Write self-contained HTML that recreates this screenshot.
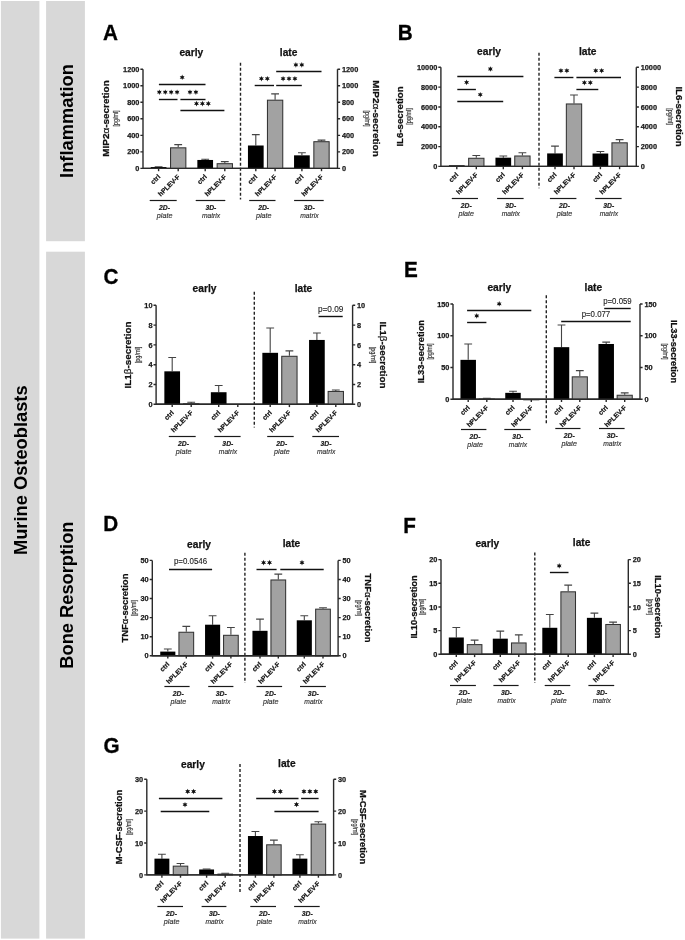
<!DOCTYPE html>
<html><head><meta charset="utf-8"><style>
html,body{margin:0;padding:0;background:#fff;width:685px;height:940px;overflow:hidden}
svg{display:block;will-change:transform}
text{font-family:"Liberation Sans",sans-serif;fill:#111}
.lt{font-size:20.7px;font-weight:bold;fill:#000;stroke:#000;stroke-width:0.3px}
.tt{font-size:10.2px;font-weight:bold;stroke:#111;stroke-width:0.25px}
.tk{font-size:7.35px;font-weight:bold;fill:#1a1a1a;stroke:#1a1a1a;stroke-width:0.25px}
.xl{font-size:6.7px;font-weight:bold;fill:#111;stroke:#111;stroke-width:0.2px}
.g1{font-size:6.8px;font-weight:bold;font-style:italic;fill:#222;stroke:#222;stroke-width:0.2px}
.g2{font-size:7.0px;font-style:italic;fill:#333;stroke:#333;stroke-width:0.15px}
.yl{font-size:9.4px;font-weight:bold;fill:#111;stroke:#111;stroke-width:0.25px}
.gk{font-weight:normal}
.un{fill:#3a3a3a;stroke:#3a3a3a;stroke-width:0.2px}
.st{font-size:12.5px;font-weight:bold;letter-spacing:0.8px;fill:#111}
.pv{font-size:8.8px;fill:#222;stroke:#222;stroke-width:0.12px}
.big{font-size:18.3px;font-weight:bold;fill:#000}
.ax{stroke:#2a2a2a;stroke-width:1.4;fill:none}
.ul{stroke:#1a1a1a;stroke-width:1.2;fill:none}
.sg{stroke:#111;stroke-width:1.4;fill:none}
.eb{stroke:#444;stroke-width:1.1;fill:none}
.bb{fill:#000}
.gb{fill:#a2a2a2;stroke:#333;stroke-width:1.05}
.dash{stroke:#222;stroke-width:1.4;stroke-dasharray:3 2;fill:none}
</style></head><body>
<svg width="685" height="940" viewBox="0 0 685 940">
<defs><path id="star" d="M0.00 -2.80L0.68 -1.17L2.42 -1.40L1.35 0.00L2.42 1.40L0.68 1.17L0.00 2.80L-0.67 1.17L-2.42 1.40L-1.35 0.00L-2.42 -1.40L-0.68 -1.17Z" fill="#111"/></defs>
<rect x="0.9" y="1.0" width="38.5" height="937.6" fill="#d8d8d8"/>
<rect x="46.1" y="1.0" width="38.8" height="240.2" fill="#d8d8d8"/>
<rect x="46.1" y="251.7" width="38.8" height="686.9" fill="#d8d8d8"/>
<text transform="translate(27.0,470.2) rotate(-90)" class="big" text-anchor="middle">Murine Osteoblasts</text>
<text transform="translate(72.6,121.0) rotate(-90)" class="big" text-anchor="middle">Inflammation</text>
<text transform="translate(72.6,595.1) rotate(-90)" class="big" text-anchor="middle">Bone Resorption</text>
<text transform="translate(103,39.8) scale(1,1.065)" class="lt">A</text>
<text x="191.3" y="56.3" class="tt" text-anchor="middle">early</text>
<text x="288.6" y="56.3" class="tt" text-anchor="middle">late</text>
<path d="M143 69.2V168.4H337.5V69.2" class="ax"/>
<path d="M140.4 168.4H143M337.5 168.4H340.1" class="ax"/>
<text x="139.4" y="171" class="tk" text-anchor="end">0</text>
<text x="341.9" y="171" class="tk">0</text>
<path d="M140.4 151.87H143M337.5 151.87H340.1" class="ax"/>
<text x="139.4" y="154.47" class="tk" text-anchor="end">200</text>
<text x="341.9" y="154.47" class="tk">200</text>
<path d="M140.4 135.33H143M337.5 135.33H340.1" class="ax"/>
<text x="139.4" y="137.93" class="tk" text-anchor="end">400</text>
<text x="341.9" y="137.93" class="tk">400</text>
<path d="M140.4 118.8H143M337.5 118.8H340.1" class="ax"/>
<text x="139.4" y="121.4" class="tk" text-anchor="end">600</text>
<text x="341.9" y="121.4" class="tk">600</text>
<path d="M140.4 102.27H143M337.5 102.27H340.1" class="ax"/>
<text x="139.4" y="104.87" class="tk" text-anchor="end">800</text>
<text x="341.9" y="104.87" class="tk">800</text>
<path d="M140.4 85.73H143M337.5 85.73H340.1" class="ax"/>
<text x="139.4" y="88.33" class="tk" text-anchor="end">1000</text>
<text x="341.9" y="88.33" class="tk">1000</text>
<path d="M140.4 69.2H143M337.5 69.2H340.1" class="ax"/>
<text x="139.4" y="71.8" class="tk" text-anchor="end">1200</text>
<text x="341.9" y="71.8" class="tk">1200</text>
<path d="M240.5 62.7V199.5" class="dash"/>
<path d="M158.6 167.08V166.75M154.7 166.75H162.5" class="eb"/>
<rect x="150.75" y="167.08" width="15.7" height="1.32" class="bb"/>
<path d="M158.6 168.4V171.2" class="ax"/>
<text transform="translate(160.7,177.3) rotate(-45)" class="xl" text-anchor="end">ctrl</text>
<path d="M178.2 147.32V144.59M174.3 144.59H182.1" class="eb"/>
<rect x="170.55" y="147.82" width="15.3" height="20.58" class="gb"/>
<path d="M178.2 168.4V171.2" class="ax"/>
<text transform="translate(180.3,177.3) rotate(-45)" class="xl" text-anchor="end">hPLEV-F</text>
<path d="M205.2 159.97V159.31M201.3 159.31H209.1" class="eb"/>
<rect x="197.35" y="159.97" width="15.7" height="8.43" class="bb"/>
<path d="M205.2 168.4V171.2" class="ax"/>
<text transform="translate(207.3,177.3) rotate(-45)" class="xl" text-anchor="end">ctrl</text>
<path d="M224.8 163.19V161.62M220.9 161.62H228.7" class="eb"/>
<rect x="217.15" y="163.69" width="15.3" height="4.71" class="gb"/>
<path d="M224.8 168.4V171.2" class="ax"/>
<text transform="translate(226.9,177.3) rotate(-45)" class="xl" text-anchor="end">hPLEV-F</text>
<path d="M255.8 145.5V134.67M251.9 134.67H259.7" class="eb"/>
<rect x="247.95" y="145.5" width="15.7" height="22.9" class="bb"/>
<path d="M255.8 168.4V171.2" class="ax"/>
<text transform="translate(257.9,177.3) rotate(-45)" class="xl" text-anchor="end">ctrl</text>
<path d="M275.1 99.7V93.83M271.2 93.83H279" class="eb"/>
<rect x="267.45" y="100.2" width="15.3" height="68.2" class="gb"/>
<path d="M275.1 168.4V171.2" class="ax"/>
<text transform="translate(277.2,177.3) rotate(-45)" class="xl" text-anchor="end">hPLEV-F</text>
<path d="M301.9 155.34V152.69M298 152.69H305.8" class="eb"/>
<rect x="294.05" y="155.34" width="15.7" height="13.06" class="bb"/>
<path d="M301.9 168.4V171.2" class="ax"/>
<text transform="translate(304,177.3) rotate(-45)" class="xl" text-anchor="end">ctrl</text>
<path d="M321.5 141.2V140.13M317.6 140.13H325.4" class="eb"/>
<rect x="313.85" y="141.7" width="15.3" height="26.7" class="gb"/>
<path d="M321.5 168.4V171.2" class="ax"/>
<text transform="translate(323.6,177.3) rotate(-45)" class="xl" text-anchor="end">hPLEV-F</text>
<path d="M143 168.4H337.5" class="ax"/>
<path d="M149.7 200.5H176.7" class="ul"/>
<text x="164.5" y="209.7" class="g1" text-anchor="middle">2D-</text>
<text x="164.6" y="217.7" class="g2" style="font-size:7.2px" text-anchor="middle">plate</text>
<path d="M195.7 200.5H225.3" class="ul"/>
<text x="210.9" y="209.7" class="g1" text-anchor="middle">3D-</text>
<text x="211" y="217.7" class="g2" style="font-size:6.7px" text-anchor="middle">matrix</text>
<path d="M249.2 200.5H275.5" class="ul"/>
<text x="263.65" y="209.7" class="g1" text-anchor="middle">2D-</text>
<text x="263.75" y="217.7" class="g2" style="font-size:7.2px" text-anchor="middle">plate</text>
<path d="M294.1 200.5H323.7" class="ul"/>
<text x="309.3" y="209.7" class="g1" text-anchor="middle">3D-</text>
<text x="309.4" y="217.7" class="g2" style="font-size:6.7px" text-anchor="middle">matrix</text>
<path d="M158.9 84.5H205.5" class="sg"/>
<use href="#star" x="182.2" y="77.3"/>
<path d="M158.9 99.5H177.5" class="sg"/>
<use href="#star" x="159.32" y="92.2"/>
<use href="#star" x="165.24" y="92.2"/>
<use href="#star" x="171.16" y="92.2"/>
<use href="#star" x="177.08" y="92.2"/>
<path d="M180.4 99.5H205.5" class="sg"/>
<use href="#star" x="189.99" y="92.2"/>
<use href="#star" x="195.91" y="92.2"/>
<path d="M180.4 110.5H224.4" class="sg"/>
<use href="#star" x="196.48" y="103.6"/>
<use href="#star" x="202.4" y="103.6"/>
<use href="#star" x="208.32" y="103.6"/>
<path d="M254.7 85.5H274" class="sg"/>
<use href="#star" x="261.39" y="78.7"/>
<use href="#star" x="267.31" y="78.7"/>
<path d="M276.2 85.5H301.8" class="sg"/>
<use href="#star" x="283.08" y="78.7"/>
<use href="#star" x="289" y="78.7"/>
<use href="#star" x="294.92" y="78.7"/>
<path d="M276.2 71.5H321.5" class="sg"/>
<use href="#star" x="295.89" y="64.9"/>
<use href="#star" x="301.81" y="64.9"/>
<text transform="translate(109.4,118.5) rotate(-90)" class="yl" text-anchor="middle" textLength="76.4" lengthAdjust="spacingAndGlyphs">MIP2<tspan class="gk">α</tspan>-secretion</text>
<text transform="translate(373.2,118.5) rotate(90)" class="yl" text-anchor="middle" textLength="76.4" lengthAdjust="spacingAndGlyphs">MIP2<tspan class="gk">α</tspan>-secretion</text>
<text transform="translate(117.7,118.5) rotate(-90)" class="un" style="font-size:6.6px" text-anchor="middle" textLength="16.0" lengthAdjust="spacingAndGlyphs">[pg/ml]</text>
<text transform="translate(365.2,118.5) rotate(90)" class="un" style="font-size:6.6px" text-anchor="middle" textLength="16.0" lengthAdjust="spacingAndGlyphs">[pg/ml]</text>
<text transform="translate(397.8,39.8) scale(1,1.065)" class="lt">B</text>
<text x="489" y="54.5" class="tt" text-anchor="middle">early</text>
<text x="587.7" y="54.5" class="tt" text-anchor="middle">late</text>
<path d="M440.9 67.3V166.4H636.3V67.3" class="ax"/>
<path d="M438.3 166.4H440.9M636.3 166.4H638.9" class="ax"/>
<text x="437.3" y="169" class="tk" text-anchor="end">0</text>
<text x="640.7" y="169" class="tk">0</text>
<path d="M438.3 146.58H440.9M636.3 146.58H638.9" class="ax"/>
<text x="437.3" y="149.18" class="tk" text-anchor="end">2000</text>
<text x="640.7" y="149.18" class="tk">2000</text>
<path d="M438.3 126.76H440.9M636.3 126.76H638.9" class="ax"/>
<text x="437.3" y="129.36" class="tk" text-anchor="end">4000</text>
<text x="640.7" y="129.36" class="tk">4000</text>
<path d="M438.3 106.94H440.9M636.3 106.94H638.9" class="ax"/>
<text x="437.3" y="109.54" class="tk" text-anchor="end">6000</text>
<text x="640.7" y="109.54" class="tk">6000</text>
<path d="M438.3 87.12H440.9M636.3 87.12H638.9" class="ax"/>
<text x="437.3" y="89.72" class="tk" text-anchor="end">8000</text>
<text x="640.7" y="89.72" class="tk">8000</text>
<path d="M438.3 67.3H440.9M636.3 67.3H638.9" class="ax"/>
<text x="437.3" y="69.9" class="tk" text-anchor="end">10000</text>
<text x="640.7" y="69.9" class="tk">10000</text>
<path d="M539 52.8V188.3" class="dash"/>
<rect x="448.95" y="165.31" width="15.7" height="1.09" class="bb"/>
<path d="M456.8 166.4V169.2" class="ax"/>
<text transform="translate(458.9,175.3) rotate(-45)" class="xl" text-anchor="end">ctrl</text>
<path d="M476.3 157.78V155.5M472.4 155.5H480.2" class="eb"/>
<rect x="468.65" y="158.28" width="15.3" height="8.12" class="gb"/>
<path d="M476.3 166.4V169.2" class="ax"/>
<text transform="translate(478.4,175.3) rotate(-45)" class="xl" text-anchor="end">hPLEV-F</text>
<path d="M503.3 157.68V155.99M499.4 155.99H507.2" class="eb"/>
<rect x="495.45" y="157.68" width="15.7" height="8.72" class="bb"/>
<path d="M503.3 166.4V169.2" class="ax"/>
<text transform="translate(505.4,175.3) rotate(-45)" class="xl" text-anchor="end">ctrl</text>
<path d="M522.4 155.5V152.72M518.5 152.72H526.3" class="eb"/>
<rect x="514.75" y="156" width="15.3" height="10.4" class="gb"/>
<path d="M522.4 166.4V169.2" class="ax"/>
<text transform="translate(524.5,175.3) rotate(-45)" class="xl" text-anchor="end">hPLEV-F</text>
<path d="M555 153.42V146.08M551.1 146.08H558.9" class="eb"/>
<rect x="547.15" y="153.42" width="15.7" height="12.98" class="bb"/>
<path d="M555 166.4V169.2" class="ax"/>
<text transform="translate(557.1,175.3) rotate(-45)" class="xl" text-anchor="end">ctrl</text>
<path d="M574 103.47V95.05M570.1 95.05H577.9" class="eb"/>
<rect x="566.35" y="103.97" width="15.3" height="62.43" class="gb"/>
<path d="M574 166.4V169.2" class="ax"/>
<text transform="translate(576.1,175.3) rotate(-45)" class="xl" text-anchor="end">hPLEV-F</text>
<path d="M600.4 153.52V151.53M596.5 151.53H604.3" class="eb"/>
<rect x="592.55" y="153.52" width="15.7" height="12.88" class="bb"/>
<path d="M600.4 166.4V169.2" class="ax"/>
<text transform="translate(602.5,175.3) rotate(-45)" class="xl" text-anchor="end">ctrl</text>
<path d="M619.6 142.32V139.64M615.7 139.64H623.5" class="eb"/>
<rect x="611.95" y="142.82" width="15.3" height="23.58" class="gb"/>
<path d="M619.6 166.4V169.2" class="ax"/>
<text transform="translate(621.7,175.3) rotate(-45)" class="xl" text-anchor="end">hPLEV-F</text>
<path d="M440.9 166.4H636.3" class="ax"/>
<path d="M451.8 198.5H478" class="ul"/>
<text x="466.2" y="207.6" class="g1" text-anchor="middle">2D-</text>
<text x="466.3" y="215.6" class="g2" style="font-size:7.2px" text-anchor="middle">plate</text>
<path d="M497.1 198.5H523.6" class="ul"/>
<text x="510.75" y="207.6" class="g1" text-anchor="middle">3D-</text>
<text x="510.85" y="215.6" class="g2" style="font-size:6.7px" text-anchor="middle">matrix</text>
<path d="M549.9 198.5H576.4" class="ul"/>
<text x="564.45" y="207.9" class="g1" text-anchor="middle">2D-</text>
<text x="564.55" y="215.9" class="g2" style="font-size:7.2px" text-anchor="middle">plate</text>
<path d="M595.2 198.5H621.6" class="ul"/>
<text x="608.8" y="207.9" class="g1" text-anchor="middle">3D-</text>
<text x="608.9" y="215.9" class="g2" style="font-size:6.7px" text-anchor="middle">matrix</text>
<path d="M457.3 76.5H523.4" class="sg"/>
<use href="#star" x="490.35" y="69"/>
<path d="M457.3 89.5H475.9" class="sg"/>
<use href="#star" x="466.6" y="82.4"/>
<path d="M457.3 101.5H503.2" class="sg"/>
<use href="#star" x="480.25" y="94.7"/>
<path d="M554.4 77.5H573.4" class="sg"/>
<use href="#star" x="560.94" y="70.7"/>
<use href="#star" x="566.86" y="70.7"/>
<path d="M576.4 77.5H621" class="sg"/>
<use href="#star" x="595.74" y="70.7"/>
<use href="#star" x="601.66" y="70.7"/>
<path d="M576.4 89.5H598.3" class="sg"/>
<use href="#star" x="584.39" y="82.7"/>
<use href="#star" x="590.31" y="82.7"/>
<text transform="translate(403.3,116.5) rotate(-90)" class="yl" text-anchor="middle" textLength="60.2" lengthAdjust="spacingAndGlyphs">IL6-secretion</text>
<text transform="translate(676.1,116.5) rotate(90)" class="yl" text-anchor="middle" textLength="60.2" lengthAdjust="spacingAndGlyphs">IL6-secretion</text>
<text transform="translate(411,116.5) rotate(-90)" class="un" style="font-size:6.6px" text-anchor="middle" textLength="16.6" lengthAdjust="spacingAndGlyphs">[pg/ml]</text>
<text transform="translate(668,116.5) rotate(90)" class="un" style="font-size:6.6px" text-anchor="middle" textLength="16.6" lengthAdjust="spacingAndGlyphs">[pg/ml]</text>
<text transform="translate(103.4,283.8) scale(1,1.065)" class="lt">C</text>
<text x="204.5" y="292" class="tt" text-anchor="middle">early</text>
<text x="303.5" y="291.5" class="tt" text-anchor="middle">late</text>
<path d="M156.1 305.3V404.3H352.6V305.3" class="ax"/>
<path d="M153.5 404.3H156.1M352.6 404.3H355.2" class="ax"/>
<text x="152.5" y="406.9" class="tk" text-anchor="end">0</text>
<text x="357" y="406.9" class="tk">0</text>
<path d="M153.5 384.5H156.1M352.6 384.5H355.2" class="ax"/>
<text x="152.5" y="387.1" class="tk" text-anchor="end">2</text>
<text x="357" y="387.1" class="tk">2</text>
<path d="M153.5 364.7H156.1M352.6 364.7H355.2" class="ax"/>
<text x="152.5" y="367.3" class="tk" text-anchor="end">4</text>
<text x="357" y="367.3" class="tk">4</text>
<path d="M153.5 344.9H156.1M352.6 344.9H355.2" class="ax"/>
<text x="152.5" y="347.5" class="tk" text-anchor="end">6</text>
<text x="357" y="347.5" class="tk">6</text>
<path d="M153.5 325.1H156.1M352.6 325.1H355.2" class="ax"/>
<text x="152.5" y="327.7" class="tk" text-anchor="end">8</text>
<text x="357" y="327.7" class="tk">8</text>
<path d="M153.5 305.3H156.1M352.6 305.3H355.2" class="ax"/>
<text x="152.5" y="307.9" class="tk" text-anchor="end">10</text>
<text x="357" y="307.9" class="tk">10</text>
<path d="M254.3 291.7V427.6" class="dash"/>
<path d="M172.2 371.33V357.47M168.3 357.47H176.1" class="eb"/>
<rect x="164.35" y="371.33" width="15.7" height="32.97" class="bb"/>
<path d="M172.2 404.3V407.1" class="ax"/>
<text transform="translate(174.3,413.2) rotate(-45)" class="xl" text-anchor="end">ctrl</text>
<path d="M191.2 403.31V402.32M187.3 402.32H195.1" class="eb"/>
<rect x="183.55" y="403.81" width="15.3" height="0.49" class="gb"/>
<path d="M191.2 404.3V407.1" class="ax"/>
<text transform="translate(193.3,413.2) rotate(-45)" class="xl" text-anchor="end">hPLEV-F</text>
<path d="M218.7 392.22V385.49M214.8 385.49H222.6" class="eb"/>
<rect x="210.85" y="392.22" width="15.7" height="12.08" class="bb"/>
<path d="M218.7 404.3V407.1" class="ax"/>
<text transform="translate(220.8,413.2) rotate(-45)" class="xl" text-anchor="end">ctrl</text>
<path d="M237.8 404.3V407.1" class="ax"/>
<text transform="translate(239.9,413.2) rotate(-45)" class="xl" text-anchor="end">hPLEV-F</text>
<path d="M270.2 352.82V328.07M266.3 328.07H274.1" class="eb"/>
<rect x="262.35" y="352.82" width="15.7" height="51.48" class="bb"/>
<path d="M270.2 404.3V407.1" class="ax"/>
<text transform="translate(272.3,413.2) rotate(-45)" class="xl" text-anchor="end">ctrl</text>
<path d="M289.4 355.79V350.84M285.5 350.84H293.3" class="eb"/>
<rect x="281.75" y="356.29" width="15.3" height="48.01" class="gb"/>
<path d="M289.4 404.3V407.1" class="ax"/>
<text transform="translate(291.5,413.2) rotate(-45)" class="xl" text-anchor="end">hPLEV-F</text>
<path d="M316.9 339.95V333.02M313 333.02H320.8" class="eb"/>
<rect x="309.05" y="339.95" width="15.7" height="64.35" class="bb"/>
<path d="M316.9 404.3V407.1" class="ax"/>
<text transform="translate(319,413.2) rotate(-45)" class="xl" text-anchor="end">ctrl</text>
<path d="M335.8 390.94V389.94M331.9 389.94H339.7" class="eb"/>
<rect x="328.15" y="391.44" width="15.3" height="12.87" class="gb"/>
<path d="M335.8 404.3V407.1" class="ax"/>
<text transform="translate(337.9,413.2) rotate(-45)" class="xl" text-anchor="end">hPLEV-F</text>
<path d="M156.1 404.3H352.6" class="ax"/>
<path d="M168.8 436.5H195.7" class="ul"/>
<text x="183.55" y="446" class="g1" text-anchor="middle">2D-</text>
<text x="183.65" y="454" class="g2" style="font-size:7.2px" text-anchor="middle">plate</text>
<path d="M214.3 436.5H240.6" class="ul"/>
<text x="227.85" y="446" class="g1" text-anchor="middle">3D-</text>
<text x="227.95" y="454" class="g2" style="font-size:6.7px" text-anchor="middle">matrix</text>
<path d="M267.2 436.5H293.7" class="ul"/>
<text x="281.75" y="446.3" class="g1" text-anchor="middle">2D-</text>
<text x="281.85" y="454.3" class="g2" style="font-size:7.2px" text-anchor="middle">plate</text>
<path d="M312.3 436.5H339" class="ul"/>
<text x="326.05" y="446.3" class="g1" text-anchor="middle">3D-</text>
<text x="326.15" y="454.3" class="g2" style="font-size:6.7px" text-anchor="middle">matrix</text>
<path d="M318.6 316.5H342.7" class="sg"/>
<text x="330.65" y="311.9" class="pv" text-anchor="middle" textLength="25.4" lengthAdjust="spacingAndGlyphs">p=0.09</text>
<text transform="translate(131.3,355) rotate(-90)" class="yl" text-anchor="middle" textLength="66.8" lengthAdjust="spacingAndGlyphs">IL1<tspan class="gk">β</tspan>-secretion</text>
<text transform="translate(380.1,355) rotate(90)" class="yl" text-anchor="middle" textLength="66.8" lengthAdjust="spacingAndGlyphs">IL1<tspan class="gk">β</tspan>-secretion</text>
<text transform="translate(140.2,355) rotate(-90)" class="un" style="font-size:6.6px" text-anchor="middle" textLength="16.4" lengthAdjust="spacingAndGlyphs">[pg/ml]</text>
<text transform="translate(371.3,355) rotate(90)" class="un" style="font-size:6.6px" text-anchor="middle" textLength="16.4" lengthAdjust="spacingAndGlyphs">[pg/ml]</text>
<text transform="translate(404.1,276.8) scale(1,1.065)" class="lt">E</text>
<text x="499.3" y="291.3" class="tt" text-anchor="middle">early</text>
<text x="593.4" y="291" class="tt" text-anchor="middle">late</text>
<path d="M453 304V399.2H640V304" class="ax"/>
<path d="M450.4 399.2H453M640 399.2H642.6" class="ax"/>
<text x="449.4" y="401.8" class="tk" text-anchor="end">0</text>
<text x="644.4" y="401.8" class="tk">0</text>
<path d="M450.4 367.47H453M640 367.47H642.6" class="ax"/>
<text x="449.4" y="370.07" class="tk" text-anchor="end">50</text>
<text x="644.4" y="370.07" class="tk">50</text>
<path d="M450.4 335.73H453M640 335.73H642.6" class="ax"/>
<text x="449.4" y="338.33" class="tk" text-anchor="end">100</text>
<text x="644.4" y="338.33" class="tk">100</text>
<path d="M450.4 304H453M640 304H642.6" class="ax"/>
<text x="449.4" y="306.6" class="tk" text-anchor="end">150</text>
<text x="644.4" y="306.6" class="tk">150</text>
<path d="M546.3 295.3V425" class="dash"/>
<path d="M468.2 359.85V343.98M464.3 343.98H472.1" class="eb"/>
<rect x="460.45" y="359.85" width="15.5" height="39.35" class="bb"/>
<path d="M468.2 399.2V402" class="ax"/>
<text transform="translate(470.3,408.1) rotate(-45)" class="xl" text-anchor="end">ctrl</text>
<path d="M486.8 398.57V398.25M482.9 398.25H490.7" class="eb"/>
<rect x="479.25" y="399.07" width="15.1" height="0.3" class="gb"/>
<path d="M486.8 399.2V402" class="ax"/>
<text transform="translate(488.9,408.1) rotate(-45)" class="xl" text-anchor="end">hPLEV-F</text>
<path d="M513 392.85V391.27M509.1 391.27H516.9" class="eb"/>
<rect x="505.25" y="392.85" width="15.5" height="6.35" class="bb"/>
<path d="M513 399.2V402" class="ax"/>
<text transform="translate(515.1,408.1) rotate(-45)" class="xl" text-anchor="end">ctrl</text>
<rect x="523.75" y="399.51" width="15.1" height="0.3" class="gb"/>
<path d="M531.3 399.2V402" class="ax"/>
<text transform="translate(533.4,408.1) rotate(-45)" class="xl" text-anchor="end">hPLEV-F</text>
<path d="M561.5 347.16V324.94M557.6 324.94H565.4" class="eb"/>
<rect x="553.75" y="347.16" width="15.5" height="52.04" class="bb"/>
<path d="M561.5 399.2V402" class="ax"/>
<text transform="translate(563.6,408.1) rotate(-45)" class="xl" text-anchor="end">ctrl</text>
<path d="M579.8 376.35V370.64M575.9 370.64H583.7" class="eb"/>
<rect x="572.25" y="376.85" width="15.1" height="22.35" class="gb"/>
<path d="M579.8 399.2V402" class="ax"/>
<text transform="translate(581.9,408.1) rotate(-45)" class="xl" text-anchor="end">hPLEV-F</text>
<path d="M606.2 343.98V342.08M602.3 342.08H610.1" class="eb"/>
<rect x="598.45" y="343.98" width="15.5" height="55.22" class="bb"/>
<path d="M606.2 399.2V402" class="ax"/>
<text transform="translate(608.3,408.1) rotate(-45)" class="xl" text-anchor="end">ctrl</text>
<path d="M624.7 394.76V392.85M620.8 392.85H628.6" class="eb"/>
<rect x="617.15" y="395.26" width="15.1" height="3.94" class="gb"/>
<path d="M624.7 399.2V402" class="ax"/>
<text transform="translate(626.8,408.1) rotate(-45)" class="xl" text-anchor="end">hPLEV-F</text>
<path d="M453 399.2H640" class="ax"/>
<path d="M461 429.5H486.4" class="ul"/>
<text x="475" y="438.5" class="g1" text-anchor="middle">2D-</text>
<text x="475.1" y="446.5" class="g2" style="font-size:7.2px" text-anchor="middle">plate</text>
<path d="M504.3 429.5H530.6" class="ul"/>
<text x="517.85" y="438.5" class="g1" text-anchor="middle">3D-</text>
<text x="517.95" y="446.5" class="g2" style="font-size:6.7px" text-anchor="middle">matrix</text>
<path d="M555.3 428.5H580.5" class="ul"/>
<text x="569.2" y="438.4" class="g1" text-anchor="middle">2D-</text>
<text x="569.3" y="446.4" class="g2" style="font-size:7.2px" text-anchor="middle">plate</text>
<path d="M599 428.5H624.6" class="ul"/>
<text x="612.2" y="438.4" class="g1" text-anchor="middle">3D-</text>
<text x="612.3" y="446.4" class="g2" style="font-size:6.7px" text-anchor="middle">matrix</text>
<path d="M467.1 310.5H531.3" class="sg"/>
<use href="#star" x="499.2" y="303.8"/>
<path d="M467.1 322.5H486.4" class="sg"/>
<use href="#star" x="476.75" y="315.9"/>
<path d="M604.2 308.5H630.7" class="sg"/>
<text x="617.45" y="303.6" class="pv" text-anchor="middle" textLength="28.5" lengthAdjust="spacingAndGlyphs">p=0.059</text>
<path d="M561.2 321.5H630.7" class="sg"/>
<text x="595.95" y="317.2" class="pv" text-anchor="middle" textLength="28.5" lengthAdjust="spacingAndGlyphs">p=0.077</text>
<text transform="translate(424.4,351.6) rotate(-90)" class="yl" text-anchor="middle" textLength="63.3" lengthAdjust="spacingAndGlyphs">IL33-secretion</text>
<text transform="translate(670.9,351.6) rotate(90)" class="yl" text-anchor="middle" textLength="63.3" lengthAdjust="spacingAndGlyphs">IL33-secretion</text>
<text transform="translate(432.4,351.6) rotate(-90)" class="un" style="font-size:6.6px" text-anchor="middle" textLength="16.0" lengthAdjust="spacingAndGlyphs">[pg/ml]</text>
<text transform="translate(662.7,351.6) rotate(90)" class="un" style="font-size:6.6px" text-anchor="middle" textLength="16.0" lengthAdjust="spacingAndGlyphs">[pg/ml]</text>
<text transform="translate(103.2,530.6) scale(1,1.065)" class="lt">D</text>
<text x="199" y="548" class="tt" text-anchor="middle">early</text>
<text x="291.5" y="547.4" class="tt" text-anchor="middle">late</text>
<path d="M152.3 560.4V655.8H338.1V560.4" class="ax"/>
<path d="M149.7 655.8H152.3M338.1 655.8H340.7" class="ax"/>
<text x="148.7" y="658.4" class="tk" text-anchor="end">0</text>
<text x="342.5" y="658.4" class="tk">0</text>
<path d="M149.7 636.72H152.3M338.1 636.72H340.7" class="ax"/>
<text x="148.7" y="639.32" class="tk" text-anchor="end">10</text>
<text x="342.5" y="639.32" class="tk">10</text>
<path d="M149.7 617.64H152.3M338.1 617.64H340.7" class="ax"/>
<text x="148.7" y="620.24" class="tk" text-anchor="end">20</text>
<text x="342.5" y="620.24" class="tk">20</text>
<path d="M149.7 598.56H152.3M338.1 598.56H340.7" class="ax"/>
<text x="148.7" y="601.16" class="tk" text-anchor="end">30</text>
<text x="342.5" y="601.16" class="tk">30</text>
<path d="M149.7 579.48H152.3M338.1 579.48H340.7" class="ax"/>
<text x="148.7" y="582.08" class="tk" text-anchor="end">40</text>
<text x="342.5" y="582.08" class="tk">40</text>
<path d="M149.7 560.4H152.3M338.1 560.4H340.7" class="ax"/>
<text x="148.7" y="563" class="tk" text-anchor="end">50</text>
<text x="342.5" y="563" class="tk">50</text>
<path d="M244.9 552.8V683" class="dash"/>
<path d="M167.8 651.6V648.93M163.9 648.93H171.7" class="eb"/>
<rect x="160.25" y="651.6" width="15.1" height="4.2" class="bb"/>
<path d="M167.8 655.8V658.6" class="ax"/>
<text transform="translate(169.9,664.7) rotate(-45)" class="xl" text-anchor="end">ctrl</text>
<path d="M186.3 631.76V626.42M182.4 626.42H190.2" class="eb"/>
<rect x="178.95" y="632.26" width="14.7" height="23.54" class="gb"/>
<path d="M186.3 655.8V658.6" class="ax"/>
<text transform="translate(188.4,664.7) rotate(-45)" class="xl" text-anchor="end">hPLEV-F</text>
<path d="M212.6 624.7V615.73M208.7 615.73H216.5" class="eb"/>
<rect x="205.05" y="624.7" width="15.1" height="31.1" class="bb"/>
<path d="M212.6 655.8V658.6" class="ax"/>
<text transform="translate(214.7,664.7) rotate(-45)" class="xl" text-anchor="end">ctrl</text>
<path d="M230.9 634.81V627.56M227 627.56H234.8" class="eb"/>
<rect x="223.55" y="635.31" width="14.7" height="20.49" class="gb"/>
<path d="M230.9 655.8V658.6" class="ax"/>
<text transform="translate(233,664.7) rotate(-45)" class="xl" text-anchor="end">hPLEV-F</text>
<path d="M260 630.81V619.17M256.1 619.17H263.9" class="eb"/>
<rect x="252.45" y="630.81" width="15.1" height="24.99" class="bb"/>
<path d="M260 655.8V658.6" class="ax"/>
<text transform="translate(262.1,664.7) rotate(-45)" class="xl" text-anchor="end">ctrl</text>
<path d="M278.3 579.48V574.14M274.4 574.14H282.2" class="eb"/>
<rect x="270.95" y="579.98" width="14.7" height="75.82" class="gb"/>
<path d="M278.3 655.8V658.6" class="ax"/>
<text transform="translate(280.4,664.7) rotate(-45)" class="xl" text-anchor="end">hPLEV-F</text>
<path d="M304.3 620.31V615.73M300.4 615.73H308.2" class="eb"/>
<rect x="296.75" y="620.31" width="15.1" height="35.49" class="bb"/>
<path d="M304.3 655.8V658.6" class="ax"/>
<text transform="translate(306.4,664.7) rotate(-45)" class="xl" text-anchor="end">ctrl</text>
<path d="M323 608.67V607.72M319.1 607.72H326.9" class="eb"/>
<rect x="315.65" y="609.17" width="14.7" height="46.63" class="gb"/>
<path d="M323 655.8V658.6" class="ax"/>
<text transform="translate(325.1,664.7) rotate(-45)" class="xl" text-anchor="end">hPLEV-F</text>
<path d="M152.3 655.8H338.1" class="ax"/>
<path d="M164.4 686.5H189.6" class="ul"/>
<text x="178.3" y="696.1" class="g1" text-anchor="middle">2D-</text>
<text x="178.4" y="704.1" class="g2" style="font-size:7.2px" text-anchor="middle">plate</text>
<path d="M208.2 686.5H233.4" class="ul"/>
<text x="221.2" y="696.1" class="g1" text-anchor="middle">3D-</text>
<text x="221.3" y="704.1" class="g2" style="font-size:6.7px" text-anchor="middle">matrix</text>
<path d="M256.5 686.5H282.1" class="ul"/>
<text x="270.6" y="696.1" class="g1" text-anchor="middle">2D-</text>
<text x="270.7" y="704.1" class="g2" style="font-size:7.2px" text-anchor="middle">plate</text>
<path d="M300 686.5H325.9" class="ul"/>
<text x="313.35" y="696.1" class="g1" text-anchor="middle">3D-</text>
<text x="313.45" y="704.1" class="g2" style="font-size:6.7px" text-anchor="middle">matrix</text>
<path d="M169 569.5H212.1" class="sg"/>
<text x="190.55" y="564.4" class="pv" text-anchor="middle" textLength="33.2" lengthAdjust="spacingAndGlyphs">p=0.0546</text>
<path d="M256.5 569.5H276.6" class="sg"/>
<use href="#star" x="263.59" y="562.6"/>
<use href="#star" x="269.51" y="562.6"/>
<path d="M280.3 569.5H323.7" class="sg"/>
<use href="#star" x="302" y="562.6"/>
<text transform="translate(127.9,608.1) rotate(-90)" class="yl" text-anchor="middle" textLength="69" lengthAdjust="spacingAndGlyphs">TNF<tspan class="gk">α</tspan>-secretion</text>
<text transform="translate(364.6,608.1) rotate(90)" class="yl" text-anchor="middle" textLength="69" lengthAdjust="spacingAndGlyphs">TNF<tspan class="gk">α</tspan>-secretion</text>
<text transform="translate(135.6,608.1) rotate(-90)" class="un" style="font-size:6.6px" text-anchor="middle" textLength="16.0" lengthAdjust="spacingAndGlyphs">[pg/ml]</text>
<text transform="translate(356.7,608.1) rotate(90)" class="un" style="font-size:6.6px" text-anchor="middle" textLength="16.0" lengthAdjust="spacingAndGlyphs">[pg/ml]</text>
<text transform="translate(403.3,532.7) scale(1,1.065)" class="lt">F</text>
<text x="487.3" y="547.3" class="tt" text-anchor="middle">early</text>
<text x="581.6" y="546.2" class="tt" text-anchor="middle">late</text>
<path d="M441 559.6V654.3H628.3V559.6" class="ax"/>
<path d="M438.4 654.3H441M628.3 654.3H630.9" class="ax"/>
<text x="437.4" y="656.9" class="tk" text-anchor="end">0</text>
<text x="632.7" y="656.9" class="tk">0</text>
<path d="M438.4 630.62H441M628.3 630.62H630.9" class="ax"/>
<text x="437.4" y="633.23" class="tk" text-anchor="end">5</text>
<text x="632.7" y="633.23" class="tk">5</text>
<path d="M438.4 606.95H441M628.3 606.95H630.9" class="ax"/>
<text x="437.4" y="609.55" class="tk" text-anchor="end">10</text>
<text x="632.7" y="609.55" class="tk">10</text>
<path d="M438.4 583.27H441M628.3 583.27H630.9" class="ax"/>
<text x="437.4" y="585.88" class="tk" text-anchor="end">15</text>
<text x="632.7" y="585.88" class="tk">15</text>
<path d="M438.4 559.6H441M628.3 559.6H630.9" class="ax"/>
<text x="437.4" y="562.2" class="tk" text-anchor="end">20</text>
<text x="632.7" y="562.2" class="tk">20</text>
<path d="M534.8 552.5V683" class="dash"/>
<path d="M456.3 637.49V627.55M452.4 627.55H460.2" class="eb"/>
<rect x="448.8" y="637.49" width="15" height="16.81" class="bb"/>
<path d="M456.3 654.3V657.1" class="ax"/>
<text transform="translate(458.4,663.2) rotate(-45)" class="xl" text-anchor="end">ctrl</text>
<path d="M474.6 644.12V640.09M470.7 640.09H478.5" class="eb"/>
<rect x="467.3" y="644.62" width="14.6" height="9.68" class="gb"/>
<path d="M474.6 654.3V657.1" class="ax"/>
<text transform="translate(476.7,663.2) rotate(-45)" class="xl" text-anchor="end">hPLEV-F</text>
<path d="M500.3 638.67V631.1M496.4 631.1H504.2" class="eb"/>
<rect x="492.8" y="638.67" width="15" height="15.63" class="bb"/>
<path d="M500.3 654.3V657.1" class="ax"/>
<text transform="translate(502.4,663.2) rotate(-45)" class="xl" text-anchor="end">ctrl</text>
<path d="M518.8 642.46V634.89M514.9 634.89H522.7" class="eb"/>
<rect x="511.5" y="642.96" width="14.6" height="11.34" class="gb"/>
<path d="M518.8 654.3V657.1" class="ax"/>
<text transform="translate(520.9,663.2) rotate(-45)" class="xl" text-anchor="end">hPLEV-F</text>
<path d="M549.8 627.78V614.53M545.9 614.53H553.7" class="eb"/>
<rect x="542.3" y="627.78" width="15" height="26.52" class="bb"/>
<path d="M549.8 654.3V657.1" class="ax"/>
<text transform="translate(551.9,663.2) rotate(-45)" class="xl" text-anchor="end">ctrl</text>
<path d="M568.2 591.32V585.17M564.3 585.17H572.1" class="eb"/>
<rect x="560.9" y="591.82" width="14.6" height="62.48" class="gb"/>
<path d="M568.2 654.3V657.1" class="ax"/>
<text transform="translate(570.3,663.2) rotate(-45)" class="xl" text-anchor="end">hPLEV-F</text>
<path d="M594.4 617.84V613.11M590.5 613.11H598.3" class="eb"/>
<rect x="586.9" y="617.84" width="15" height="36.46" class="bb"/>
<path d="M594.4 654.3V657.1" class="ax"/>
<text transform="translate(596.5,663.2) rotate(-45)" class="xl" text-anchor="end">ctrl</text>
<path d="M613.1 624V622.1M609.2 622.1H617" class="eb"/>
<rect x="605.8" y="624.5" width="14.6" height="29.8" class="gb"/>
<path d="M613.1 654.3V657.1" class="ax"/>
<text transform="translate(615.2,663.2) rotate(-45)" class="xl" text-anchor="end">hPLEV-F</text>
<path d="M441 654.3H628.3" class="ax"/>
<path d="M450 685.5H475.9" class="ul"/>
<text x="464.25" y="694.6" class="g1" text-anchor="middle">2D-</text>
<text x="464.35" y="702.6" class="g2" style="font-size:7.2px" text-anchor="middle">plate</text>
<path d="M493.4 685.5H518.6" class="ul"/>
<text x="506.4" y="694.6" class="g1" text-anchor="middle">3D-</text>
<text x="506.5" y="702.6" class="g2" style="font-size:6.7px" text-anchor="middle">matrix</text>
<path d="M544.7 685.5H570.3" class="ul"/>
<text x="558.8" y="694.7" class="g1" text-anchor="middle">2D-</text>
<text x="558.9" y="702.7" class="g2" style="font-size:7.2px" text-anchor="middle">plate</text>
<path d="M588.4 685.5H614.2" class="ul"/>
<text x="601.7" y="694.7" class="g1" text-anchor="middle">3D-</text>
<text x="601.8" y="702.7" class="g2" style="font-size:6.7px" text-anchor="middle">matrix</text>
<path d="M549.9 572.5H568.5" class="sg"/>
<use href="#star" x="559.2" y="565.9"/>
<text transform="translate(416.5,606.9) rotate(-90)" class="yl" text-anchor="middle" textLength="63.3" lengthAdjust="spacingAndGlyphs">IL10-secretion</text>
<text transform="translate(655.4,606.9) rotate(90)" class="yl" text-anchor="middle" textLength="63.3" lengthAdjust="spacingAndGlyphs">IL10-secretion</text>
<text transform="translate(424.2,606.9) rotate(-90)" class="un" style="font-size:6.6px" text-anchor="middle" textLength="16.2" lengthAdjust="spacingAndGlyphs">[pg/ml]</text>
<text transform="translate(647.6,606.9) rotate(90)" class="un" style="font-size:6.6px" text-anchor="middle" textLength="16.2" lengthAdjust="spacingAndGlyphs">[pg/ml]</text>
<text transform="translate(103.4,752.6) scale(1,1.065)" class="lt">G</text>
<text x="192.9" y="767.5" class="tt" text-anchor="middle">early</text>
<text x="286.9" y="767.1" class="tt" text-anchor="middle">late</text>
<path d="M146.8 779.3V874.9H333.6V779.3" class="ax"/>
<path d="M144.2 874.9H146.8M333.6 874.9H336.2" class="ax"/>
<text x="143.2" y="877.5" class="tk" text-anchor="end">0</text>
<text x="338" y="877.5" class="tk">0</text>
<path d="M144.2 843.03H146.8M333.6 843.03H336.2" class="ax"/>
<text x="143.2" y="845.63" class="tk" text-anchor="end">10</text>
<text x="338" y="845.63" class="tk">10</text>
<path d="M144.2 811.17H146.8M333.6 811.17H336.2" class="ax"/>
<text x="143.2" y="813.77" class="tk" text-anchor="end">20</text>
<text x="338" y="813.77" class="tk">20</text>
<path d="M144.2 779.3H146.8M333.6 779.3H336.2" class="ax"/>
<text x="143.2" y="781.9" class="tk" text-anchor="end">30</text>
<text x="338" y="781.9" class="tk">30</text>
<path d="M240 763.9V893.7" class="dash"/>
<path d="M161.9 858.65V854.19M158 854.19H165.8" class="eb"/>
<rect x="154.45" y="858.65" width="14.9" height="16.25" class="bb"/>
<path d="M161.9 874.9V877.7" class="ax"/>
<text transform="translate(164,883.8) rotate(-45)" class="xl" text-anchor="end">ctrl</text>
<path d="M180.5 865.66V863.43M176.6 863.43H184.4" class="eb"/>
<rect x="173.25" y="866.16" width="14.5" height="8.74" class="gb"/>
<path d="M180.5 874.9V877.7" class="ax"/>
<text transform="translate(182.6,883.8) rotate(-45)" class="xl" text-anchor="end">hPLEV-F</text>
<path d="M206.6 869.48V869M202.7 869H210.5" class="eb"/>
<rect x="199.15" y="869.48" width="14.9" height="5.42" class="bb"/>
<path d="M206.6 874.9V877.7" class="ax"/>
<text transform="translate(208.7,883.8) rotate(-45)" class="xl" text-anchor="end">ctrl</text>
<path d="M225.2 873.63V873.31M221.3 873.31H229.1" class="eb"/>
<rect x="217.95" y="874.13" width="14.5" height="0.77" class="gb"/>
<path d="M225.2 874.9V877.7" class="ax"/>
<text transform="translate(227.3,883.8) rotate(-45)" class="xl" text-anchor="end">hPLEV-F</text>
<path d="M255.4 836.02V831.56M251.5 831.56H259.3" class="eb"/>
<rect x="247.95" y="836.02" width="14.9" height="38.88" class="bb"/>
<path d="M255.4 874.9V877.7" class="ax"/>
<text transform="translate(257.5,883.8) rotate(-45)" class="xl" text-anchor="end">ctrl</text>
<path d="M273.9 844.31V840.17M270 840.17H277.8" class="eb"/>
<rect x="266.65" y="844.81" width="14.5" height="30.09" class="gb"/>
<path d="M273.9 874.9V877.7" class="ax"/>
<text transform="translate(276,883.8) rotate(-45)" class="xl" text-anchor="end">hPLEV-F</text>
<path d="M299.9 858.65V854.82M296 854.82H303.8" class="eb"/>
<rect x="292.45" y="858.65" width="14.9" height="16.25" class="bb"/>
<path d="M299.9 874.9V877.7" class="ax"/>
<text transform="translate(302,883.8) rotate(-45)" class="xl" text-anchor="end">ctrl</text>
<path d="M318.4 823.59V821.68M314.5 821.68H322.3" class="eb"/>
<rect x="311.15" y="824.09" width="14.5" height="50.81" class="gb"/>
<path d="M318.4 874.9V877.7" class="ax"/>
<text transform="translate(320.5,883.8) rotate(-45)" class="xl" text-anchor="end">hPLEV-F</text>
<path d="M146.8 874.9H333.6" class="ax"/>
<path d="M157.4 906.5H183" class="ul"/>
<text x="171.5" y="915.7" class="g1" text-anchor="middle">2D-</text>
<text x="171.6" y="923.7" class="g2" style="font-size:7.2px" text-anchor="middle">plate</text>
<path d="M201.6 906.5H226.4" class="ul"/>
<text x="214.4" y="915.7" class="g1" text-anchor="middle">3D-</text>
<text x="214.5" y="923.7" class="g2" style="font-size:6.7px" text-anchor="middle">matrix</text>
<path d="M250.3 906.5H276" class="ul"/>
<text x="264.45" y="915.7" class="g1" text-anchor="middle">2D-</text>
<text x="264.55" y="923.7" class="g2" style="font-size:7.2px" text-anchor="middle">plate</text>
<path d="M294.1 906.5H319.7" class="ul"/>
<text x="307.3" y="915.7" class="g1" text-anchor="middle">3D-</text>
<text x="307.4" y="923.7" class="g2" style="font-size:6.7px" text-anchor="middle">matrix</text>
<path d="M158.9 798.5H222.4" class="sg"/>
<use href="#star" x="187.69" y="791.5"/>
<use href="#star" x="193.61" y="791.5"/>
<path d="M160.7 811.5H209.3" class="sg"/>
<use href="#star" x="185" y="804.7"/>
<path d="M256.2 798.5H298.5" class="sg"/>
<use href="#star" x="274.39" y="791.5"/>
<use href="#star" x="280.31" y="791.5"/>
<path d="M301.1 798.5H318.6" class="sg"/>
<use href="#star" x="303.93" y="791.5"/>
<use href="#star" x="309.85" y="791.5"/>
<use href="#star" x="315.77" y="791.5"/>
<path d="M274.4 811.5H318.6" class="sg"/>
<use href="#star" x="296.5" y="804.5"/>
<text transform="translate(122.3,827.1) rotate(-90)" class="yl" text-anchor="middle" textLength="74.4" lengthAdjust="spacingAndGlyphs">M-CSF-secretion</text>
<text transform="translate(360.4,827.1) rotate(90)" class="yl" text-anchor="middle" textLength="74.4" lengthAdjust="spacingAndGlyphs">M-CSF-secretion</text>
<text transform="translate(130.6,827.1) rotate(-90)" class="un" style="font-size:6.6px" text-anchor="middle" textLength="16.0" lengthAdjust="spacingAndGlyphs">[pg/ml]</text>
<text transform="translate(352.6,827.1) rotate(90)" class="un" style="font-size:6.6px" text-anchor="middle" textLength="16.0" lengthAdjust="spacingAndGlyphs">[pg/ml]</text>
</svg>
</body></html>
